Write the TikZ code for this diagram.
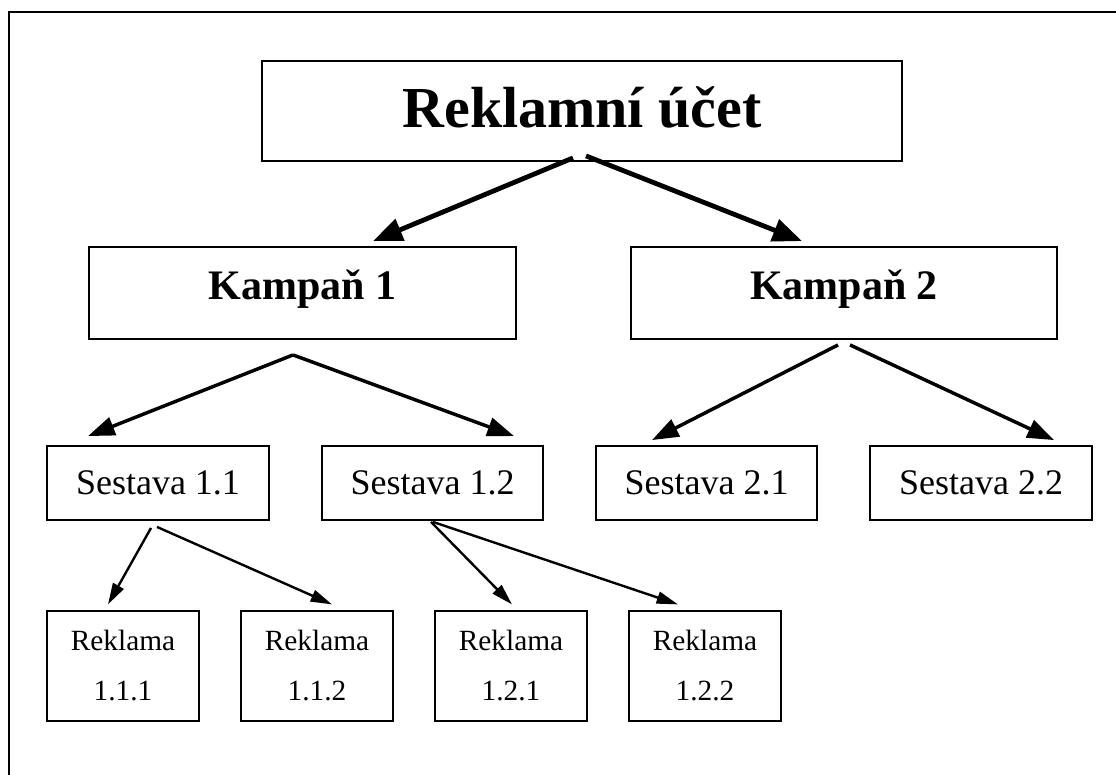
\documentclass[tikz,border=0pt]{standalone}
\usepackage{fontspec}
\setmainfont{Liberation Serif}
\usetikzlibrary{arrows.meta,calc}
\begin{document}
\begin{tikzpicture}[x=0.75pt,y=-0.75pt,
  box/.style={draw,line width=1.4pt,rectangle,inner sep=0pt,align=center},
  bigarrow/.style={line width=3.6pt,-{Triangle[length=22pt,width=17pt]}},
  midarrow/.style={line width=2.6pt,-{Triangle[length=20pt,width=14pt]}},
  smallarrow/.style={line width=1.8pt,-{Triangle[length=16pt,width=9pt]}},
  lvlA/.style={font=\fontsize{43.5}{50}\selectfont\bfseries,text depth=6pt},
  lvlB/.style={font=\fontsize{31.5}{36}\selectfont\bfseries,text depth=13pt},
  lvlC/.style={font=\fontsize{27}{32}\selectfont},
  lvlD/.style={font=\fontsize{22}{37.5}\selectfont}
]
\useasboundingbox (0,0) rectangle (1116,774);
\draw[line width=1.5pt] (9,780) -- (9,12) -- (1120,12);

\node[box,lvlA,minimum width=480pt,minimum height=75pt] (acct) at (582,111) {Reklamní účet};
\node[box,lvlB,minimum width=320pt,minimum height=69pt] (k1) at (302.5,293) {Kampaň 1};
\node[box,lvlB,minimum width=320pt,minimum height=69pt] (k2) at (844,293) {Kampaň 2};
\node[box,lvlC,minimum width=166pt,minimum height=55.5pt] (s11) at (158,483) {Sestava 1.1};
\node[box,lvlC,minimum width=166pt,minimum height=55.5pt] (s12) at (432.5,483) {Sestava 1.2};
\node[box,lvlC,minimum width=166pt,minimum height=55.5pt] (s21) at (706.5,483) {Sestava 2.1};
\node[box,lvlC,minimum width=166pt,minimum height=55.5pt] (s22) at (981,483) {Sestava 2.2};
\node[box,lvlD,minimum width=114pt,minimum height=82pt] (r111) at (123,666) {Reklama\\1.1.1};
\node[box,lvlD,minimum width=114pt,minimum height=82pt] (r112) at (317,666) {Reklama\\1.1.2};
\node[box,lvlD,minimum width=114pt,minimum height=82pt] (r121) at (511,666) {Reklama\\1.2.1};
\node[box,lvlD,minimum width=114pt,minimum height=82pt] (r122) at (705,666) {Reklama\\1.2.2};

\draw[bigarrow] ($(acct.south)+(-9,-4)$) -- ($(k1.north)+(70.5,-5)$);
\draw[bigarrow] ($(acct.south)+(4,-6)$) -- ($(k2.north)+(-42,-5)$);
\draw[midarrow] ($(k1.south)+(-9.5,15)$) -- ($(s11.north)+(-70,-9)$);
\draw[midarrow] ($(k1.south)+(-9.5,15)$) -- ($(s12.north)+(81.5,-9)$);
\draw[midarrow] ($(k2.south)+(-6,5)$) -- ($(s21.north)+(-54.5,-5)$);
\draw[midarrow] ($(k2.south)+(6,5)$) -- ($(s22.north)+(73,-5)$);
\draw[smallarrow] ($(s11.south)+(-7,7)$) -- ($(r111.north)+(-15,-6)$);
\draw[smallarrow] ($(s11.south)+(-1,6)$) -- ($(r112.north)+(15,-6)$);
\draw[smallarrow] ($(s12.south)+(-1.5,1)$) -- ($(r121.north)+(1,-6)$);
\draw[smallarrow] ($(s12.south)+(0.5,1)$) -- ($(r122.north)+(-27,-6)$);
\end{tikzpicture}
\end{document}
